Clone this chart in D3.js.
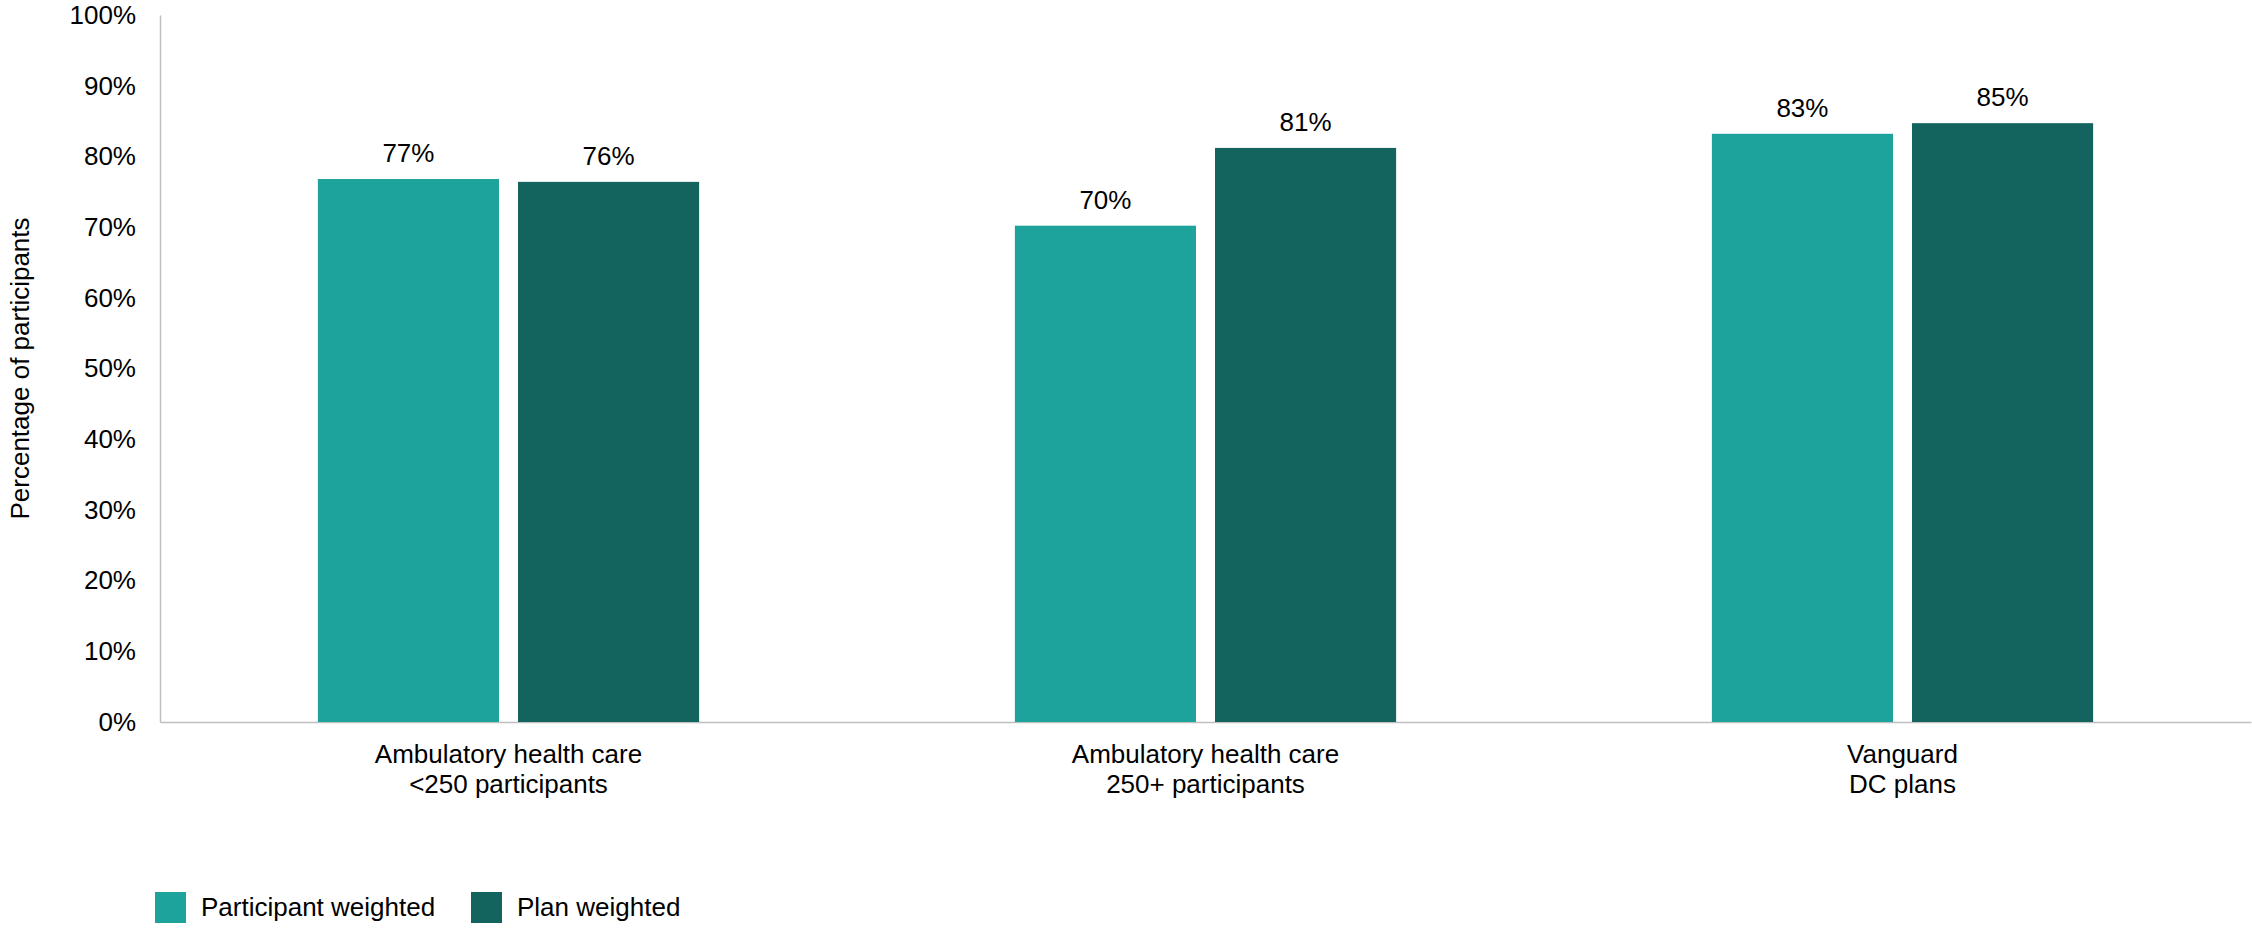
<!DOCTYPE html>
<html lang="en">
<head>
<meta charset="utf-8">
<script src="https://d3js.org/d3.v7.min.js"></script>
<style>
body { margin: 0; background: #fff; }
svg text { font-family: "Liberation Sans", Arial, sans-serif; fill: #000; }
</style>
</head>
<body>
<svg id="chart" width="2252" height="928"></svg>
<script>
// chart values (bar heights, labels are rounded)
var groups = ["Ambulatory health care\n<250 participants", "Ambulatory health care\n250+ participants", "Vanguard\nDC plans"];
var seriesNames = ["Participant weighted", "Plan weighted"];
var participantWeighted = [76.8, 70.2, 83.2];
var planWeighted = [76.4, 81.2, 84.7];
var yTicks = [0, 10, 20, 30, 40, 50, 60, 70, 80, 90, 100];
var colors = ["#1da39b", "#13635f"];

var margin = {top: 15, right: 1, bottom: 206, left: 160},
    width = 2252 - margin.left - margin.right,
    height = 928 - margin.top - margin.bottom;

var svg = d3.select("#chart")
  .append("g")
  .attr("transform", "translate(" + margin.left + "," + margin.top + ")");

var x0 = d3.scaleBand()
    .domain(groups)
    .range([0, width])
    .paddingInner(0.453)
    .paddingOuter(0.2265);

var x1 = d3.scaleBand()
    .domain(seriesNames)
    .range([0, x0.bandwidth()])
    .paddingInner(0.095);

var y = d3.scaleLinear()
    .domain([0, 100])
    .range([height, 0]);

var rows = groups.map(function(g, i) {
  return {group: g, values: [participantWeighted[i], planWeighted[i]]};
});

// Y axis
var yAxis = svg.append("g")
  .call(d3.axisLeft(y).tickValues(yTicks).tickSize(0).tickPadding(24).tickFormat(function(d) { return d + "%"; }));
yAxis.select(".domain").attr("stroke", "#bfbfbf").attr("stroke-width", 1.5);
yAxis.selectAll("text").style("font-size", "26px").attr("fill", "#000");

// X axis baseline
var xAxis = svg.append("g")
  .attr("transform", "translate(0," + height + ")")
  .call(d3.axisBottom(x0).tickSize(0).tickFormat(""));
xAxis.select(".domain").attr("stroke", "#bfbfbf").attr("stroke-width", 1.5);

// x category labels (two lines)
svg.selectAll(".xlabel")
  .data(groups)
  .enter()
  .append("text")
  .attr("class", "xlabel")
  .attr("text-anchor", "middle")
  .attr("x", function(d) { return x0(d) + x0.bandwidth() / 2; })
  .attr("y", height + 41)
  .style("font-size", "26px")
  .each(function(d) {
    var lines = d.split("\n");
    var t = d3.select(this);
    lines.forEach(function(l, i) {
      t.append("tspan")
        .attr("x", x0(d) + x0.bandwidth() / 2)
        .attr("dy", i == 0 ? 0 : 30)
        .text(l);
    });
  });

// bars
var grp = svg.selectAll(".grp")
  .data(rows)
  .enter()
  .append("g")
  .attr("class", "grp")
  .attr("transform", function(d) { return "translate(" + x0(d.group) + ",0)"; });

grp.selectAll("rect")
  .data(function(d) { return d.values.map(function(v, i) { return {name: seriesNames[i], value: v, i: i}; }); })
  .enter()
  .append("rect")
  .attr("x", function(d) { return x1(d.name); })
  .attr("y", function(d) { return y(d.value); })
  .attr("width", x1.bandwidth())
  .attr("height", function(d) { return height - y(d.value); })
  .attr("fill", function(d) { return colors[d.i]; });

grp.selectAll(".val")
  .data(function(d) { return d.values.map(function(v, i) { return {name: seriesNames[i], value: v}; }); })
  .enter()
  .append("text")
  .attr("class", "val")
  .attr("text-anchor", "middle")
  .attr("x", function(d) { return x1(d.name) + x1.bandwidth() / 2; })
  .attr("y", function(d) { return y(d.value) - 17; })
  .style("font-size", "26px")
  .text(function(d) { return Math.round(d.value) + "%"; });

// y axis title
svg.append("text")
  .attr("transform", "rotate(-90)")
  .attr("x", -height / 2)
  .attr("y", -margin.left + 29)
  .attr("text-anchor", "middle")
  .style("font-size", "26px")
  .text("Percentage of participants");

// legend
var legendX = [155, 471];
var legend = d3.select("#chart").append("g");
seriesNames.forEach(function(name, i) {
  legend.append("rect")
    .attr("x", legendX[i])
    .attr("y", 892)
    .attr("width", 31)
    .attr("height", 31)
    .attr("fill", colors[i]);
  legend.append("text")
    .attr("x", legendX[i] + 46)
    .attr("y", 916)
    .style("font-size", "26px")
    .text(name);
});
</script>
</body>
</html>
